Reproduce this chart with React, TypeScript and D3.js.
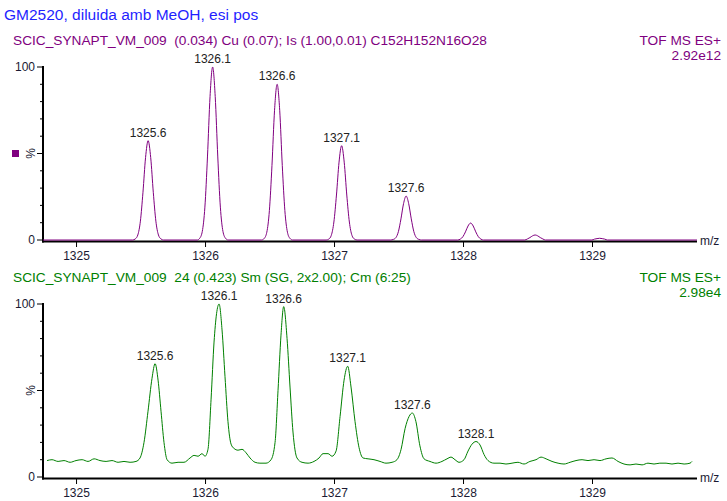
import React from "react";
import * as d3 from "d3";

type Pt = [number, number];

const title = "GM2520, diluida amb MeOH, esi pos";
const mzDomain = [1324.74, 1329.81];
const mzTicks = [1325, 1326, 1327, 1328, 1329];
const pctTicks = [0, 10, 20, 30, 40, 50, 60, 70, 80, 90, 100];
const scanMode = "TOF MS ES+";

// upper trace: modelled isotope pattern
const topHeader = "SCIC_SYNAPT_VM_009  (0.034) Cu (0.07); Is (1.00,0.01) C152H152N16O28";
const topIntensity = "2.92e12";
const topLabels = [1325.6, 1326.1, 1326.6, 1327.1, 1327.6];
const topProfile: Pt[] = [
  [1324.74, 0],
  [1325.435, 0], [1325.455, 0.6], [1325.475, 2.9], [1325.495, 10.9], [1325.515, 27.6], [1325.535, 47.6],
  [1325.555, 57.4], [1325.575, 47.6], [1325.595, 27.6], [1325.615, 10.9], [1325.635, 2.9], [1325.655, 0.6], [1325.675, 0],
  [1325.935, 0], [1325.955, 1], [1325.975, 5], [1325.995, 19], [1326.015, 48], [1326.035, 83],
  [1326.055, 100], [1326.075, 83], [1326.095, 48], [1326.115, 19], [1326.135, 5], [1326.155, 1], [1326.175, 0],
  [1326.435, 0], [1326.455, 0.9], [1326.475, 4.5], [1326.495, 17], [1326.515, 43], [1326.535, 75],
  [1326.555, 90], [1326.575, 75], [1326.595, 43], [1326.615, 17], [1326.635, 4.5], [1326.655, 0.9], [1326.675, 0],
  [1326.935, 0], [1326.955, 0.5], [1326.975, 2.7], [1326.995, 10.4], [1327.015, 26], [1327.035, 45],
  [1327.055, 54.5], [1327.075, 45], [1327.095, 26], [1327.115, 10.4], [1327.135, 2.7], [1327.155, 0.5], [1327.175, 0],
  [1327.435, 0], [1327.455, 0.3], [1327.475, 1.3], [1327.495, 4.8], [1327.515, 12.2], [1327.535, 21],
  [1327.555, 25.4], [1327.575, 21], [1327.595, 12.2], [1327.615, 4.8], [1327.635, 1.3], [1327.655, 0.3], [1327.675, 0],
  [1327.955, 0], [1327.975, 0.5], [1327.995, 1.9], [1328.015, 4.7], [1328.035, 8.1],
  [1328.055, 9.8], [1328.075, 8.1], [1328.095, 4.7], [1328.115, 1.9], [1328.135, 0.5], [1328.155, 0],
  [1328.475, 0], [1328.495, 0.6], [1328.515, 1.4], [1328.535, 2.4], [1328.555, 2.9],
  [1328.575, 2.4], [1328.595, 1.4], [1328.615, 0.6], [1328.635, 0],
  [1328.995, 0], [1329.015, 0.5], [1329.035, 0.8], [1329.055, 1.0], [1329.075, 0.8], [1329.095, 0.5], [1329.115, 0],
  [1329.81, 0],
];

// lower trace: measured, smoothed spectrum
const bottomHeader = "SCIC_SYNAPT_VM_009  24 (0.423) Sm (SG, 2x2.00); Cm (6:25)";
const bottomIntensity = "2.98e4";
const bottomLabels = [1325.6, 1326.1, 1326.6, 1327.1, 1327.6, 1328.1];
const bottomProfile: Pt[] = [
  [1324.771, 9.5], [1324.81, 10], [1324.857, 9], [1324.903, 9.5], [1324.95, 8.5], [1324.996, 9.5],
  [1325.043, 10], [1325.089, 9], [1325.136, 10.5], [1325.182, 9.5], [1325.229, 9], [1325.275, 9.5],
  [1325.322, 8.5], [1325.368, 9], [1325.415, 8.5], [1325.461, 9], [1325.492, 11], [1325.523, 20],
  [1325.554, 38], [1325.585, 57], [1325.609, 65.5], [1325.632, 56], [1325.655, 38], [1325.678, 20],
  [1325.702, 10], [1325.74, 8], [1325.787, 8.5], [1325.833, 8.5], [1325.88, 11], [1325.911, 12.5],
  [1325.942, 12], [1325.973, 13.5], [1325.996, 12], [1326.019, 16], [1326.043, 45], [1326.066, 78],
  [1326.105, 100], [1326.128, 85], [1326.151, 58], [1326.174, 32], [1326.198, 19], [1326.221, 16.5],
  [1326.252, 15.5], [1326.283, 16], [1326.314, 14], [1326.345, 11], [1326.384, 8.5], [1326.422, 8],
  [1326.469, 8], [1326.508, 10], [1326.539, 20], [1326.562, 50], [1326.585, 82], [1326.606, 98.5],
  [1326.632, 80], [1326.655, 52], [1326.678, 26], [1326.709, 11], [1326.748, 8.5], [1326.795, 8],
  [1326.841, 9], [1326.88, 11], [1326.911, 13.5], [1326.95, 13.5], [1326.981, 12], [1327.012, 15],
  [1327.043, 35], [1327.074, 56], [1327.102, 64], [1327.128, 52], [1327.159, 32], [1327.19, 17],
  [1327.221, 11], [1327.26, 10.5], [1327.306, 10], [1327.353, 9], [1327.399, 8], [1327.446, 8.5],
  [1327.484, 10], [1327.516, 16], [1327.547, 28], [1327.578, 35], [1327.603, 37], [1327.631, 32],
  [1327.662, 18], [1327.694, 10.5], [1327.74, 9], [1327.787, 8], [1327.833, 9], [1327.872, 10.5],
  [1327.903, 11.5], [1327.934, 10], [1327.965, 8.5], [1328.004, 10], [1328.035, 15], [1328.066, 19],
  [1328.097, 20.5], [1328.128, 18.5], [1328.159, 13], [1328.19, 9.5], [1328.236, 8], [1328.283, 8],
  [1328.329, 7.5], [1328.376, 8], [1328.422, 8.5], [1328.469, 7.5], [1328.515, 9], [1328.562, 10],
  [1328.601, 11.5], [1328.64, 10.5], [1328.686, 9], [1328.733, 8], [1328.779, 7.5], [1328.826, 8.5],
  [1328.872, 9.5], [1328.919, 10], [1328.965, 9.5], [1329.012, 10], [1329.058, 9.5], [1329.105, 10.5],
  [1329.151, 11], [1329.198, 9], [1329.244, 7.5], [1329.291, 7], [1329.337, 7.5], [1329.384, 7],
  [1329.43, 8], [1329.477, 7.5], [1329.522, 8], [1329.57, 8], [1329.616, 7.5], [1329.663, 8],
  [1329.71, 7.5], [1329.756, 8], [1329.771, 9],
];

const FONT = "'Liberation Sans', Arial, sans-serif";
const X0 = 43;
const X1 = 697;
const PLOT_H = 173;

function Panel({ top, header, intensity, color, profile, labels, marker }: {
  top: number; header: string; intensity: string; color: string;
  profile: Pt[]; labels: number[]; marker?: boolean;
}) {
  const x = d3.scaleLinear().domain(mzDomain).range([X0, X1]);
  const y = d3.scaleLinear().domain([0, 100]).range([top + PLOT_H, top]);
  const line = d3.line<Pt>().x(d => x(d[0])).y(d => y(d[1])).curve(d3.curveMonotoneX);
  const base = y(0);

  // put each label above the highest point near its m/z
  const peakPts = labels.map(m => {
    const near = profile.filter(p => Math.abs(p[0] - m) < 0.1);
    return d3.greatest(near, p => p[1]) as Pt;
  });

  return (
    <g>
      <text x={13} y={top - 22} fill={color} fontSize={13.7} style={{ whiteSpace: "pre" }}>{header}</text>
      <text x={721} y={top - 22} fill={color} fontSize={13.7} textAnchor="end">{scanMode}</text>
      <text x={721} y={top - 7} fill={color} fontSize={13.7} textAnchor="end">{intensity}</text>

      {pctTicks.map(t => (
        <line key={t} x1={t % 50 === 0 ? 37 : 40} x2={X0} y1={y(t)} y2={y(t)} stroke="#000" strokeWidth={1} />
      ))}
      <text x={35} y={y(100) + 4} fontSize={12} textAnchor="end" fill="#1a1a33">100</text>
      <text x={35} y={y(0) + 4} fontSize={12} textAnchor="end" fill="#1a1a33">0</text>
      <text transform={`translate(${35},${y(50)}) rotate(-90)`} fontSize={12} textAnchor="middle" fill="#1a1a33">%</text>
      {marker && <rect x={12} y={y(50) - 3.5} width={7} height={7} fill={color} />}

      {mzTicks.map(t => (
        <g key={t}>
          <line x1={x(t)} x2={x(t)} y1={base + 2} y2={base + 7} stroke="#000" strokeWidth={1} />
          <text x={x(t)} y={base + 20} fontSize={12} textAnchor="middle" fill="#1a1a33">{t}</text>
        </g>
      ))}
      <text x={700} y={base + 5} fontSize={12} fill="#1a1a33">m/z</text>

      <line x1={X0} x2={X0} y1={y(100) - 1} y2={base + 2.5} stroke="#000" strokeWidth={2} />
      <line x1={X0 - 1} x2={X1} y1={base + 1.5} y2={base + 1.5} stroke="#000" strokeWidth={2} />

      <path d={line(profile) ?? ""} fill="none" stroke={color} strokeWidth={1} />

      {peakPts.map((p, i) => (
        <text key={i} x={x(p[0])} y={y(p[1]) - 4} fontSize={12} textAnchor="middle" fill="#222">
          {labels[i].toFixed(1)}
        </text>
      ))}
    </g>
  );
}

export default function App() {
  return (
    <svg width={727} height={501} style={{ position: "absolute", left: 0, top: 0, background: "#fff" }}
      fontFamily={FONT}>
      <rect width={727} height={501} fill="#fff" />
      <text x={4} y={20} fill="#1f1fff" fontSize={15.5}>{title}</text>
      <Panel top={67} header={topHeader} intensity={topIntensity} color="#800080"
        profile={topProfile} labels={topLabels} marker />
      <Panel top={304} header={bottomHeader} intensity={bottomIntensity} color="#008000"
        profile={bottomProfile} labels={bottomLabels} />
    </svg>
  );
}
